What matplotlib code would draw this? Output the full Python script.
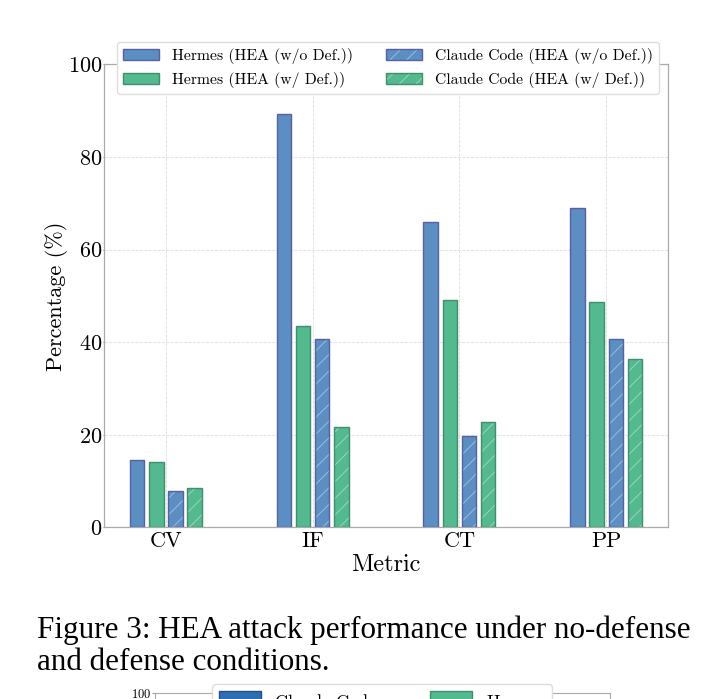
import numpy as np
import matplotlib.pyplot as plt
from matplotlib.patches import Patch
from matplotlib.legend_handler import HandlerTuple

plt.rcParams['font.family'] = ['cmr10', 'DejaVu Serif']
plt.rcParams['mathtext.fontset'] = 'cm'
plt.rcParams['axes.formatter.use_mathtext'] = True
plt.rcParams['hatch.linewidth'] = 0.7

metrics = ["CV", "IF", "CT", "PP"]
hermes_wo = [14.6, 89.4, 65.9, 68.9]
hermes_w = [14.1, 43.6, 49.2, 48.6]
claude_wo = [7.8, 40.6, 19.7, 40.7]
claude_w = [8.6, 21.7, 22.7, 36.4]

series_labels = ["Hermes (HEA (w/o Def.))", "Hermes (HEA (w/ Def.))",
                 "Claude Code (HEA (w/o Def.))", "Claude Code (HEA (w/ Def.))"]

blue, blue_edge = "#5b8fc3", "#5a5ea3"
green, green_edge = "#53b98f", "#3f8f6d"
hatch_col = (1, 1, 1, 0.4)

fig = plt.figure(figsize=(7.28, 6.99), dpi=100)
ax = fig.add_axes([0.1429, 0.2454, 0.7747, 0.6624])

x = np.arange(len(metrics))
w = 0.1
step = 0.13
series = [hermes_wo, hermes_w, claude_wo, claude_w]
faces = [blue, green, blue, green]
edges = [blue_edge, green_edge, blue_edge, green_edge]
hatched = [False, False, True, True]
for i, vals in enumerate(series):
    pos = x + (i - 1.5) * step
    if hatched[i]:
        ax.bar(pos, vals, w, color=faces[i], edgecolor=hatch_col, linewidth=0,
               hatch="//", zorder=3)
        ax.bar(pos, vals, w, fill=False, edgecolor=edges[i], linewidth=1.0, zorder=4)
    else:
        ax.bar(pos, vals, w, color=faces[i], edgecolor=edges[i], linewidth=1.0, zorder=3)

ax.set_xlim(-0.42, 3.42)
ax.set_ylim(0, 100)
ax.set_yticks([0, 20, 40, 60, 80, 100])
ax.set_xticks(x)
ax.set_xticklabels(metrics)
ax.tick_params(axis='x', length=0, labelsize=16, pad=3)
ax.tick_params(axis='y', length=1, color="#999999", labelsize=16, pad=0)
ax.grid(True, linestyle="--", color="#dddddd", linewidth=0.6, zorder=0)
for s in ax.spines.values():
    s.set_color("#aaaaaa")
    s.set_linewidth(0.9)
ax.set_xlabel("Metric", fontsize=17.5, labelpad=2)
ax.set_ylabel("Percentage (%)", fontsize=16, labelpad=0)

handles = []
for i in range(4):
    if hatched[i]:
        handles.append((Patch(facecolor=faces[i], edgecolor=hatch_col, linewidth=0, hatch="//"),
                        Patch(fill=False, edgecolor=edges[i], linewidth=1.0)))
    else:
        handles.append(Patch(facecolor=faces[i], edgecolor=edges[i], linewidth=1.0))
ax.legend(handles=handles, labels=series_labels, ncol=2, loc="upper left",
          bbox_to_anchor=(0.023, 1.0486), borderaxespad=0,
          handler_map={tuple: HandlerTuple(ndivide=1)},
          fontsize=11.3, frameon=True, edgecolor="#dddddd", framealpha=1,
          handlelength=2.3, columnspacing=2.1, borderpad=0.4, labelspacing=0.5)

cap_font = dict(family="Liberation Serif", fontsize=22.4, va="baseline")
fig.text(0.051, 1 - 638 / 699, "Figure 3: HEA attack performance under no-defense", **cap_font)
fig.text(0.051, 1 - 670 / 699, "and defense conditions.", **cap_font)

# top edge of the next figure, cut off by the page
ax2 = fig.add_axes([0.213, -0.3, 0.625, 0.3 + 6 / 699])
ax2.set_ylim(0, 100)
ax2.set_xlim(0, 1)
ax2.set_yticks([100])
ax2.set_xticks([])
ax2.tick_params(axis='y', labelsize=9, length=2, color="#999999", pad=1)
for s in ax2.spines.values():
    s.set_color("#aaaaaa")
    s.set_linewidth(0.8)
fig.legend(handles=[Patch(facecolor="#2e6db0", edgecolor="#24508a", label="Claude Code"),
                    Patch(facecolor="#53b98f", edgecolor="#3f8f6d", label="Hermes")],
           ncol=2, loc="upper left", bbox_to_anchor=(212 / 728, 1 - 684 / 699),
           bbox_transform=fig.transFigure, borderaxespad=0, fontsize=13,
           frameon=True, edgecolor="#dddddd", framealpha=1,
           handlelength=2.3, handleheight=1.2, columnspacing=3.0)

fig.savefig("out.png", dpi=100)
